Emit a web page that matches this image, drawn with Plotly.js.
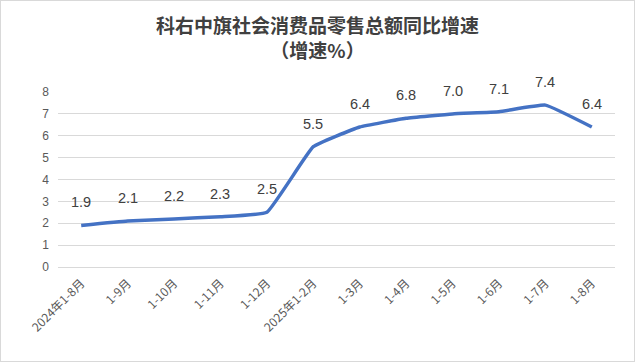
<!DOCTYPE html>
<html>
<head>
<meta charset="utf-8">
<script src="https://cdn.plot.ly/plotly-3.0.1.min.js"></script>
<style>
html,body{margin:0;padding:0;background:#fff;}
#chart{width:633px;height:360px;border:1px solid #d9d9d9;}
</style>
</head>
<body>
<div id="chart"></div>
<script>
const categories = ["2024年1-8月","1-9月","1-10月","1-11月","1-12月","2025年1-2月","1-3月","1-4月","1-5月","1-6月","1-7月","1-8月"];
const values = [1.9, 2.1, 2.2, 2.3, 2.5, 5.5, 6.4, 6.8, 7.0, 7.1, 7.4, 6.4];
const labels = ["1.9","2.1","2.2","2.3","2.5","5.5","6.4","6.8","7.0","7.1","7.4","6.4"];
const titleText = "科右中旗社会消费品零售总额同比增速<br>（增速%）";

const trace = {
  x: categories,
  y: values,
  type: "scatter",
  mode: "lines",
  line: {color: "#4472C4", width: 3.5, shape: "spline", smoothing: 0.3},
  hoverinfo: "skip"
};

const annotations = categories.map((c, i) => ({
  x: c, y: values[i], xref: "x", yref: "y",
  text: labels[i], showarrow: false, yshift: 23,
  font: {family: "Liberation Sans, Arial, sans-serif", size: 14.5, color: "#404040"}
}));

const layout = {
  width: 633, height: 360,
  margin: {l: 57, r: 19, t: 91, b: 94},
  paper_bgcolor: "#ffffff", plot_bgcolor: "#ffffff",
  showlegend: false,
  title: {
    text: titleText,
    x: 0.5, xanchor: "center", yref: "container", y: 0.91, yanchor: "middle",
    font: {family: "Noto Sans CJK SC, sans-serif", size: 19, color: "#404040", weight: "bold"}
  },
  xaxis: {
    type: "category",
    range: [-0.5, 11.5],
    tickangle: -45,
    showgrid: false, zeroline: false, showline: false,
    ticks: "",
    ticklabelstandoff: 6,
    tickfont: {family: "Noto Sans CJK SC, sans-serif", size: 12, color: "#595959"}
  },
  yaxis: {
    range: [0, 8],
    dtick: 1,
    showgrid: true, gridcolor: "#d9d9d9", gridwidth: 1,
    zeroline: true, zerolinecolor: "#d9d9d9", zerolinewidth: 1,
    showline: false, ticks: "",
    ticklabelstandoff: 8,
    tickfont: {family: "Liberation Sans, Arial, sans-serif", size: 12, color: "#595959"}
  },
  annotations: annotations
};

Plotly.newPlot("chart", [trace], layout, {displayModeBar: false, staticPlot: true});
</script>
</body>
</html>
